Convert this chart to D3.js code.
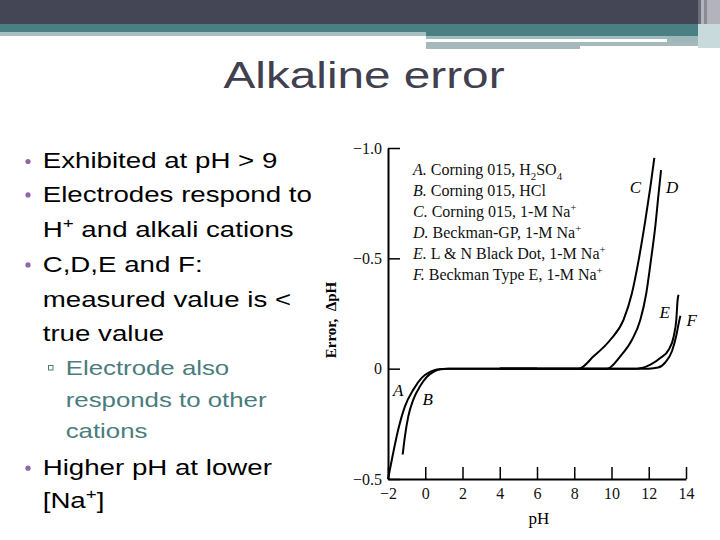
<!DOCTYPE html>
<html>
<head>
<meta charset="utf-8">
<script src="https://cdn.jsdelivr.net/npm/d3@7"></script>
<style>
  body { margin: 0; background: #fff; }
  svg { display: block; }
</style>
</head>
<body>
<script>
// axis ticks
var phTicks = [-2, 0, 2, 4, 6, 8, 10, 12, 14];
var phTickLabels = ["\u22122", "0", "2", "4", "6", "8", "10", "12", "14"];
var errTicks = [-1.0, -0.5, 0, 0.5];
var errTickLabels = ["\u22121.0", "\u22120.5", "0", "\u22120.5"];   // bottom label printed as -0.5 in the source figure

// curves (pH, error in pH units)
var curveNames = ["A", "B", "C", "D", "E", "F"];
var phA  = [-2.0, -1.72, -1.45, -1.09, -0.64, -0.19, 0.26, 0.62, 1.2, 6];
var errA = [0.5, 0.381, 0.276, 0.171, 0.095, 0.042, 0.015, 0.004, 0, 0];
var phB  = [-1.21, -1.09, -0.91, -0.64, -0.28, 0.08, 0.44, 0.8, 1.3, 6];
var errB = [0.389, 0.306, 0.216, 0.14, 0.08, 0.038, 0.015, 0.003, 0, 0];
var phC  = [4, 8.24, 9.04, 9.94, 10.65, 11.10, 11.46, 11.82, 12.09, 12.3];
var errC = [0, 0, -0.056, -0.131, -0.222, -0.343, -0.493, -0.674, -0.825, -0.955];
var phD  = [4, 9.76, 10.47, 11.10, 11.55, 11.87, 12.12, 12.35, 12.53, 12.66];
var errD = [0, 0, -0.056, -0.131, -0.222, -0.343, -0.493, -0.644, -0.795, -0.9];
var phE  = [4, 11.37, 12.09, 12.62, 13.07, 13.34, 13.48, 13.55, 13.6];
var errE = [0, 0, -0.018, -0.048, -0.086, -0.146, -0.222, -0.312, -0.335];
var phF  = [4, 12.0, 12.5, 12.9, 13.25, 13.48, 13.62, 13.7];
var errF = [0, 0, -0.005, -0.03, -0.08, -0.15, -0.21, -0.24];

// where the curve letters sit
var labelPH  = [-1.45, 0.13, 11.28, 13.25, 12.86, 14.3];
var labelErr = [0.095, 0.137, -0.825, -0.825, -0.258, -0.222];

// legend text ( _x = subscript, ^+ = superscript )
var legendText = [
    "Corning 015, H_2SO_4",
    "Corning 015, HCl",
    "Corning 015, 1-M Na^+",
    "Beckman-GP, 1-M Na^+",
    "L & N Black Dot, 1-M Na^+",
    "Beckman Type E, 1-M Na^+"
];

// slide bullets
var bulletLines = [
    {level: 1, mark: true,  text: "Exhibited at pH > 9"},
    {level: 1, mark: true,  text: "Electrodes respond to"},
    {level: 1, mark: false, text: "H^+ and alkali cations"},
    {level: 1, mark: true,  text: "C,D,E and F:"},
    {level: 1, mark: false, text: "measured value is <"},
    {level: 1, mark: false, text: "true value"},
    {level: 2, mark: true,  text: "Electrode also"},
    {level: 2, mark: false, text: "responds to other"},
    {level: 2, mark: false, text: "cations"},
    {level: 1, mark: true,  text: "Higher pH at lower"},
    {level: 1, mark: false, text: "[Na^+]"}
];
var bulletY = [168.3, 201.7, 236.7, 271.7, 306.7, 340.5, 375, 406.7, 438.3, 475, 508];

var sans = "'Liberation Sans', Arial, sans-serif";
var serif = "'Liberation Serif', 'Times New Roman', serif";
var SX = 1.23;   // slide text is stretched horizontally

var svg = d3.select("body").append("svg").attr("width", 720).attr("height", 540);

// ---- header band ----
var band = svg.append("g");
band.append("rect").attr("x", 0).attr("y", 0).attr("width", 720).attr("height", 24).attr("fill", "#444555");
band.append("rect").attr("x", 0).attr("y", 24).attr("width", 426).attr("height", 8).attr("fill", "#4a7f83");
band.append("rect").attr("x", 0).attr("y", 32).attr("width", 426).attr("height", 4).attr("fill", "#a6c1c4");
band.append("rect").attr("x", 426).attr("y", 24).attr("width", 272).attr("height", 12).attr("fill", "#4a7f83");
band.append("rect").attr("x", 426).attr("y", 36).attr("width", 241).attr("height", 3).attr("fill", "#a3babd");
band.append("rect").attr("x", 667).attr("y", 36).attr("width", 31).attr("height", 10).attr("fill", "#9db7ba");
band.append("rect").attr("x", 426).attr("y", 42).attr("width", 154).attr("height", 7).attr("fill", "#a5b9bc");
band.append("rect").attr("x", 580).attr("y", 42).attr("width", 127).attr("height", 4).attr("fill", "#a5b9bc");
band.append("rect").attr("x", 698).attr("y", 0).attr("width", 22).attr("height", 24).attr("fill", "#b3b3bd");
band.append("rect").attr("x", 698).attr("y", 0).attr("width", 3).attr("height", 24).attr("fill", "#6d6e7c");
band.append("rect").attr("x", 704).attr("y", 0).attr("width", 3).attr("height", 24).attr("fill", "#8a8b97");
band.append("rect").attr("x", 698).attr("y", 24).attr("width", 22).attr("height", 24).attr("fill", "#c9dadc");

// ---- title ----
svg.append("text")
    .attr("transform", "translate(364,87.7) scale(1.29,1)")
    .attr("text-anchor", "middle")
    .attr("font-family", sans)
    .attr("font-size", 37)
    .attr("fill", "#404050")
    .text("Alkaline error");

// write "a_2b^+" style strings as tspans
function richText(sel, str, size) {
    var tokens = str.split(/(_\d|\^\+)/).filter(function (s) { return s.length > 0; });
    var shift = 0;
    tokens.forEach(function (tok) {
        var t = sel.append("tspan");
        var target = 0;
        if (tok[0] == "_") {
            target = size * 0.3;
            t.attr("font-size", size * 0.68).text(tok.slice(1));
        } else if (tok[0] == "^") {
            target = -size * 0.38;
            t.attr("font-size", size * 0.68).text(tok.slice(1));
        } else {
            t.text(tok);
        }
        if (target != shift) {
            t.attr("dy", target - shift);
            shift = target;
        }
    });
}

// ---- bullets ----
var bullets = svg.append("g");
bulletLines.forEach(function (b, i) {
    var size = b.level == 1 ? 22.5 : 21;
    var tx = b.level == 1 ? 42.7 : 65.7;
    var col = b.level == 1 ? "#000" : "#4a7c7e";
    var t = bullets.append("text")
        .attr("transform", "translate(" + tx + "," + bulletY[i] + ") scale(" + SX + ",1)")
        .attr("font-family", sans)
        .attr("font-size", size)
        .attr("fill", col)
        .style("white-space", "pre");
    richText(t, b.text, size);
    if (b.mark) {
        if (b.level == 1) {
            bullets.append("circle").attr("cx", 28).attr("cy", bulletY[i] - 6.8).attr("r", 2.6).attr("fill", "#9264aa");
        } else {
            bullets.append("rect").attr("x", 48.5).attr("y", bulletY[i] - 9.5).attr("width", 4.5).attr("height", 4.5)
                .attr("fill", "none").attr("stroke", "#4a7c7e").attr("stroke-width", 1);
        }
    }
});

// ---- chart ----
var x = d3.scaleLinear().domain([-2, 14]).range([388, 686]);
var y = d3.scaleLinear().domain([0.5, -1.0]).range([479, 148]);

var xAxis = svg.append("g")
    .attr("transform", "translate(0," + y(0.5) + ")")
    .call(d3.axisBottom(x)
        .tickValues(phTicks)
        .tickFormat(function (d, i) { return phTickLabels[i]; })
        .tickSizeInner(-12)
        .tickSizeOuter(0)
        .tickPadding(9));
xAxis.selectAll("text").attr("font-family", serif).attr("font-size", 16).attr("fill", "#111");

var yAxis = svg.append("g")
    .attr("transform", "translate(" + x(-2) + ",0)")
    .call(d3.axisLeft(y)
        .tickValues(errTicks)
        .tickFormat(function (d, i) { return errTickLabels[i]; })
        .tickSizeInner(-12)
        .tickSizeOuter(0)
        .tickPadding(6));
yAxis.selectAll("text").attr("font-family", serif).attr("font-size", 16).attr("fill", "#111");

[xAxis, yAxis].forEach(function (ax) {
    ax.select(".domain").attr("stroke", "#000").attr("stroke-width", 2);
    ax.selectAll(".tick line").attr("stroke", "#000").attr("stroke-width", 1.5);
});

svg.append("text")
    .attr("x", x(6.1)).attr("y", 524)
    .attr("text-anchor", "middle")
    .attr("font-family", serif)
    .attr("font-size", 17)
    .text("pH");

svg.append("text")
    .attr("transform", "translate(336,320) rotate(-90)")
    .attr("text-anchor", "middle")
    .attr("font-family", serif)
    .attr("font-weight", "bold")
    .attr("font-size", 15)
    .style("white-space", "pre")
    .text("Error,  \u0394pH");

var curvePH = [phA, phB, phC, phD, phE, phF];
var curveErr = [errA, errB, errC, errD, errE, errF];

// monotone keeps the flat stretch at 0 from sagging
var line = d3.line()
    .x(function (d) { return x(d[0]); })
    .y(function (d) { return y(d[1]); })
    .curve(d3.curveMonotoneX);

curveNames.forEach(function (name, k) {
    var pts = d3.zip(curvePH[k], curveErr[k]);
    svg.append("path")
        .datum(pts)
        .attr("d", line)
        .attr("fill", "none")
        .attr("stroke", "#000")
        .attr("stroke-width", 2);

    svg.append("text")
        .attr("x", x(labelPH[k]))
        .attr("y", y(labelErr[k]))
        .attr("dy", "0.35em")
        .attr("text-anchor", "middle")
        .attr("font-family", serif)
        .attr("font-style", "italic")
        .attr("font-size", 17)
        .text(name);
});

// legend
var legend = svg.append("g").attr("font-family", serif).attr("font-size", 16).attr("fill", "#111");
legendText.forEach(function (s, i) {
    var t = legend.append("text").attr("x", 413).attr("y", 175 + i * 21).style("white-space", "pre");
    t.append("tspan").attr("font-style", "italic").text(curveNames[i] + ".");
    richText(t, " " + s, 16);
});
</script>
</body>
</html>
